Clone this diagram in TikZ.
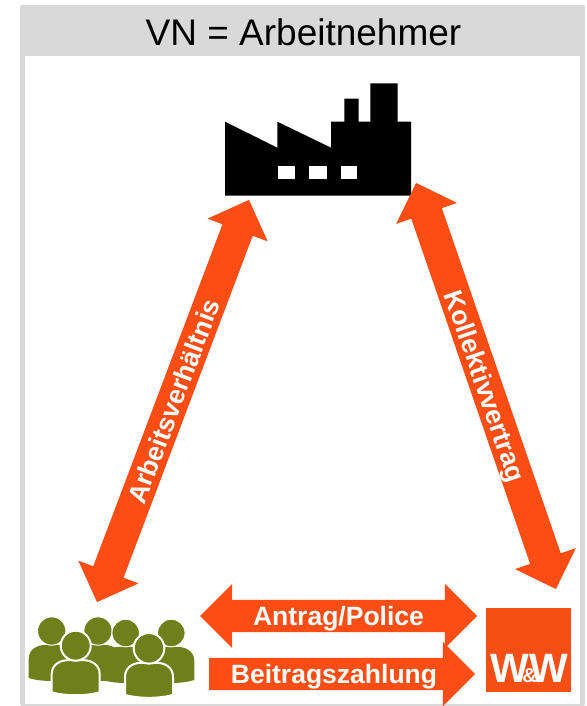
\documentclass[tikz,border=0pt]{standalone}
\usepackage{fontspec}
\setmainfont{Liberation Sans}
\usetikzlibrary{shapes.arrows}
\definecolor{wwred}{HTML}{FB4D14}
\definecolor{wwlogo}{HTML}{F64F16}
\definecolor{frame}{HTML}{D9D9D9}
\definecolor{staff}{HTML}{6E7F1B}
\tikzset{
  labeltext/.style={text=white,font=\fontsize{26.5}{26.5}\selectfont\bfseries,text height=23pt,text depth=3pt,inner xsep=0pt,inner ysep=3pt},
  bothway/.style={double arrow,double arrow head extend=16pt,fill=wwred,labeltext},
  oneway/.style={single arrow,single arrow head extend=16pt,single arrow tip angle=90,fill=wwred,labeltext},
  head/.style={fill=staff,draw=white},
  body/.style={fill=staff,draw=white},
}
\newcommand{\shoulders}[2]{% half width, height
  (-#1,-#2) -- (-#1,-14) .. controls (-#1,-4) and (-#1+9,0) .. (-#1+16,0) -- (#1-16,0)
  .. controls (#1-9,0) and (#1,-4) .. (#1,-14) -- (#1,-#2) .. controls (#1-12,-#2-4) and (-#1+12,-#2-4) .. (-#1,-#2) -- cycle}
\begin{document}
\begin{tikzpicture}[x=1pt,y=1pt]
    \useasboundingbox (0,0) rectangle (586,706);

    % Frame with title band
    \fill[frame,rounded corners=1.5pt] (20,0) rectangle (585,701);
    \fill[white] (25,1.5) rectangle (579.5,650);
    \node[font=\fontsize{37}{37}\selectfont,anchor=base,inner sep=0pt] (title) at (303.5,660) {VN = Arbeitnehmer};

    % Factory
    \fill[black] (225,510.3) -- (225,584.3) -- (277.3,558.3) -- (277.3,584.3) -- (331,558.3) -- (331,584.3)
        -- (344.3,584.3) -- (344.3,607.3) -- (358.7,607.3) -- (358.7,584.3) -- (370.3,584.3) -- (370.3,622.7)
        -- (397.7,622.7) -- (397.7,584.3) -- (411,584.3) -- (411,510.3) -- cycle;
    \foreach \x/\w in {278.3/16.4, 309.3/17.4, 341.3/16} {
        \fill[white] (\x,527) rectangle ++(\w,12.7);
    }

    % Arrows
    \node[bothway,minimum height=430pt,rotate=69.3] (job) at (173,305) {Arbeitsverhältnis};
    \node[bothway,minimum height=429.5pt,rotate=-71] (contract) at (486,320) {Kollektivvertrag};
    \node[bothway,minimum height=277pt] (police) at (338.5,90) {Antrag/Police};
    \node[oneway,minimum height=266pt] (payment) at (334,32) {Beitragszahlung};

    % Staff, back row first
    \foreach \x/\y/\r in {51.7/75/13.7, 98/75/13.7, 125.7/73/13.3, 171.3/73/13.3} {
        \begin{scope}[shift={(\x,\y-14)}]
            \fill[staff] \shoulders{23}{33};
        \end{scope}
        \filldraw[head,line width=1pt] (\x,\y) circle (\r+0.5);
    }
    \foreach \x/\y/\r in {75.7/60.3/14, 149/57.7/14.3} {
        \begin{scope}[shift={(\x,\y-14.5)}]
            \filldraw[body,line width=2pt] \shoulders{24}{32};
        \end{scope}
        \filldraw[head,line width=2pt] (\x,\y) circle (\r+1);
    }

    % W&W logo
    \node[fill=wwlogo,minimum width=85pt,minimum height=84pt,inner sep=0pt] (logo) at (528.5,56) {};
    \node[text=white,font=\fontsize{41}{41}\selectfont\bfseries,anchor=base,inner sep=0pt] (brand) at (529.5,23)
        {W\makebox[0pt]{\fontsize{20}{20}\selectfont\&}W};
\end{tikzpicture}
\end{document}
